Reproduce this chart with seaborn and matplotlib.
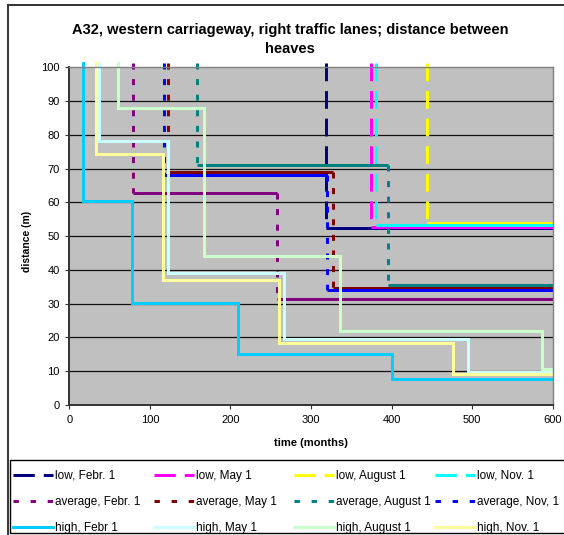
import matplotlib
matplotlib.use("Agg")
import matplotlib.pyplot as plt
from matplotlib.patches import Rectangle
from matplotlib.lines import Line2D
import pandas as pd
import seaborn as sns

TOP = 101.4
END = 600

labels = ["low, Febr. 1", "low, May 1", "low, August 1", "low, Nov. 1",
          "average, Febr. 1", "average, May 1", "average, August 1", "average, Nov, 1",
          "high, Febr 1", "high, May 1", "high, August 1", "high, Nov. 1"]

colors = ["#000080", "#FF00FF", "#FFFF00", "#00FFFF",
          "#800080", "#800000", "#008080", "#0000FF",
          "#00CCFF", "#CCFFFF", "#CCFFCC", "#FFFF99"]

# months where the distance drops, and the level it drops to
step_times = [
    [318.5], [374.5], [443.6], [380.3],
    [79.3, 257.8], [122, 327], [158, 395], [117.7, 319.5],
    [17.4, 77.7, 210, 400.7], [37.2, 122.7, 267, 494.5],
    [60, 167, 335.5, 587], [33.5, 116.5, 260, 476],
]
step_levels = [
    [52.4], [52.6], [54.0], [53.4],
    [62.7, 31.3], [68.9, 34.5], [71.2, 35.5], [68.1, 34.0],
    [60.5, 30.1, 15.1, 7.6], [78.3, 39.2, 19.4, 9.8],
    [88, 44.2, 21.9, 10.8], [74.3, 37.0, 18.5, 9.2],
]

# split each step curve into vertical drops and horizontal runs
rows = []
for lab, times, levels in zip(labels, step_times, step_levels):
    prev = TOP
    ends = times[1:] + [END]
    for k, (t, lev, t_end) in enumerate(zip(times, levels, ends)):
        rows.append({"series": lab, "kind": "drop", "seg": k, "time": t, "distance": prev})
        rows.append({"series": lab, "kind": "drop", "seg": k, "time": t, "distance": lev})
        rows.append({"series": lab, "kind": "run", "seg": k, "time": t, "distance": lev})
        rows.append({"series": lab, "kind": "run", "seg": k, "time": t_end, "distance": lev})
        prev = lev
df = pd.DataFrame(rows)

plt.rcParams["font.family"] = ["Liberation Sans", "DejaVu Sans"]

LW = 2.16
styles = {"low": (0, (5.9, 3.3)), "average": (0, (2.0, 3.2)), "high": "-"}
legend_styles = {"low": (0, (7.1, 3.0)), "average": (0, (1.8, 3.9)), "high": "-"}

fig = plt.figure(figsize=(5.64, 5.35), dpi=100)
ax = fig.add_axes([69.3 / 564, 1 - 405 / 535, (552.7 - 69.3) / 564, (405 - 67.3) / 535])
ax.set_facecolor("#C0C0C0")

for lab, col in zip(labels, colors):
    ls = styles[lab.split(",")[0]]
    sub = df[df.series == lab]
    sns.lineplot(data=sub[sub.kind == "drop"], x="time", y="distance", units="seg",
                 ax=ax, color=col, estimator=None, sort=False,
                 linewidth=LW, linestyle=ls, clip_on=False)
    sns.lineplot(data=sub[sub.kind == "run"], x="time", y="distance", units="seg",
                 ax=ax, color=col, estimator=None, sort=False,
                 linewidth=LW, linestyle="-", solid_capstyle="butt", clip_on=False)
if ax.get_legend() is not None:
    ax.get_legend().remove()

ax.set_xlim(0, 600)
ax.set_ylim(0, 100)
ax.set_xticks(range(0, 601, 100))
ax.set_yticks(range(0, 101, 10))
ax.set_xlabel("")
ax.set_ylabel("")
ax.grid(False)
for yv in range(10, 100, 10):
    ax.axhline(yv, color="#111111", lw=0.9, zorder=0.5)
ax.tick_params(labelsize=8, length=3, width=0.8, color="#333333", pad=4)
for side in ["top", "right"]:
    ax.spines[side].set_color("#808080")
    ax.spines[side].set_linewidth(1.0)
for side in ["left", "bottom"]:
    ax.spines[side].set_color("#333333")
    ax.spines[side].set_linewidth(1.4)

fig.text(290 / 564, 1 - 39.5 / 535,
         "A32, western carriageway, right traffic lanes; distance between\nheaves",
         ha="center", va="center", fontsize=10.5, fontweight="bold", linespacing=1.5)
fig.text(311 / 564, 1 - 442.7 / 535, "time (months)", ha="center", va="center",
         fontsize=8, fontweight="bold")
fig.text(27 / 564, 1 - 241.7 / 535, "distance (m)", ha="center", va="center",
         rotation=90, fontsize=7.5, fontweight="bold")

# legend: four columns, filled row by row
col_x = [12.6, 154, 294, 435]
for c in range(4):
    idx = [c, c + 4, c + 8]
    hs = [Line2D([], [], color=colors[i], lw=LW,
                 linestyle=legend_styles[labels[i].split(",")[0]]) for i in idx]
    fig.legend(hs, [labels[i] for i in idx], loc="upper left",
               bbox_to_anchor=(col_x[c] / 564, 1 - 470 / 535),
               frameon=False, fontsize=8.5, handlelength=3.4, handletextpad=0.15,
               labelspacing=1.2, borderpad=0, borderaxespad=0)

fig.patches.append(Rectangle((10 / 564, 1 - 533 / 535), 560 / 564, 73 / 535,
                             transform=fig.transFigure, fill=False,
                             edgecolor="black", lw=1.0))
fig.patches.append(Rectangle((8 / 564, -0.01), 560 / 564, 1 - 5 / 535 + 0.01,
                             transform=fig.transFigure, fill=False,
                             edgecolor="#333333", lw=1.4))

fig.savefig("out.png", dpi=100)
